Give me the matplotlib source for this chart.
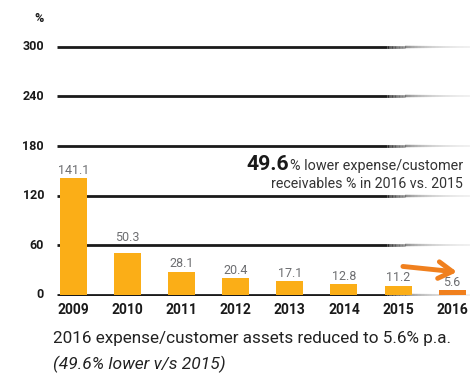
import numpy as np
import matplotlib
matplotlib.use("Agg")
import matplotlib.pyplot as plt
from matplotlib.collections import LineCollection

years = ["2009", "2010", "2011", "2012", "2013", "2014", "2015", "2016"]
values = [141.1, 50.3, 28.1, 20.4, 17.1, 12.8, 11.2, 5.6]
y_ticks = [0, 60, 120, 180, 240, 300]

BAR = "#FBAE17"
BAR_LAST = "#F0801E"
LABEL_GREY = "#6D6E71"
INK = "#1a1a1a"

W, H = 471, 379
fig = plt.figure(figsize=(W / 100, H / 100), dpi=100)
fig.patch.set_facecolor("white")
renderer = fig.canvas.get_renderer()


def px(xp, yp):
    """pixel position (from top-left) to figure fraction"""
    return xp / W, 1 - yp / H


def fit(t, width_px):
    """scale a text's font so that it spans the given pixel width"""
    w = t.get_window_extent(renderer).width
    t.set_fontsize(t.get_fontsize() * width_px / w)
    return t


# axes placed in pixel terms
left_px, right_px, top_px, bottom_px = 57, 470, 40, 296
ax = fig.add_axes([left_px / W, 1 - bottom_px / H,
                   (right_px - left_px) / W, (bottom_px - top_px) / H])
x = np.arange(len(years))
x0, x1 = -0.305, 7.33
ax.set_xlim(x0, x1)
ax.set_ylim(-1.2, 308)
for s in ax.spines.values():
    s.set_visible(False)
ax.set_xticks([])
ax.set_yticks([])

# grid lines: solid on the left, fading out towards the right edge
fade_start = 5.8
for yv in y_ticks:
    ax.plot([x0, fade_start], [yv, yv], color=INK, lw=2.0,
            solid_capstyle="butt", zorder=1)
    xs = np.linspace(fade_start, x1, 60)
    segs = [[(xs[i], yv), (xs[i + 1], yv)] for i in range(len(xs) - 1)]
    t = np.linspace(0, 1, len(segs))
    alphas = 0.9 * np.exp(-3.2 * t) + 0.04
    lws = 2.0 - 0.9 * t
    lc = LineCollection(segs, colors=[(0.1, 0.1, 0.1, a) for a in alphas],
                        linewidths=lws, capstyle="butt", zorder=1)
    ax.add_collection(lc)

colors = [BAR] * (len(years) - 1) + [BAR_LAST]
ax.bar(x, values, width=0.5, color=colors, zorder=3)

# value labels, lifted clear of any grid line they would sit on
font = "Roboto"
label_h = 11.0  # label height in data units
for xi, v in zip(x, values):
    base = v + 1.5
    for yv in y_ticks[1:]:
        if base - 1 < yv < base + label_h:
            base = yv + 1.5
    ax.text(xi, base, f"{v}", ha="center", va="bottom",
            fontsize=9, color=LABEL_GREY, family=font, zorder=4)

# tick labels
for yv in y_ticks:
    fig.text(*px(44, 295 - yv * 0.8267), str(yv), ha="right",
             va="center", fontsize=9, fontweight="bold", family=font,
             color=INK)
fig.text(*px(39, 18), "%", ha="center", va="center", fontsize=9,
         fontweight="bold", family=font, color=INK)
for xi, yr in zip(x, years):
    ax.text(xi, -18, yr, ha="center", va="center", fontsize=10,
            fontweight="bold", family=font, color=INK)

# highlight annotation
t1 = fig.text(*px(463, 166), "% lower expense/customer", ha="right",
              va="center", fontsize=10, family=font, color="#333333")
fit(t1, 173)
t2 = fig.text(*px(463, 184), "receivables % in 2016 vs. 2015", ha="right",
              va="center", fontsize=10, family=font, color="#333333")
fit(t2, 191)
left_edge = t1.get_window_extent(renderer).x0
big = fig.text(left_edge / W - 0.002, 1 - 164 / H, "49.6", ha="right",
               va="center", fontsize=15, fontweight="bold", family=font,
               color=INK)
fit(big, 43)

# arrow pointing at the 2016 bar
ax.annotate("", xy=(7.09, 27.8), xytext=(6.09, 34.5),
            arrowprops=dict(arrowstyle="->,head_length=1.0,head_width=0.6",
                            color=BAR_LAST, lw=3.5, shrinkA=0, shrinkB=0),
            zorder=5)

c1 = fig.text(*px(53, 338), "2016 expense/customer assets reduced to 5.6% p.a.",
              ha="left", va="center", fontsize=12, family=font,
              color="#222222")
fit(c1, 398)
c2 = fig.text(*px(53, 364), "(49.6% lower v/s 2015)", ha="left",
              va="center", fontsize=12, style="italic", family=font,
              color="#222222")
fit(c2, 172)

fig.savefig("out.png", dpi=100, facecolor="white")
